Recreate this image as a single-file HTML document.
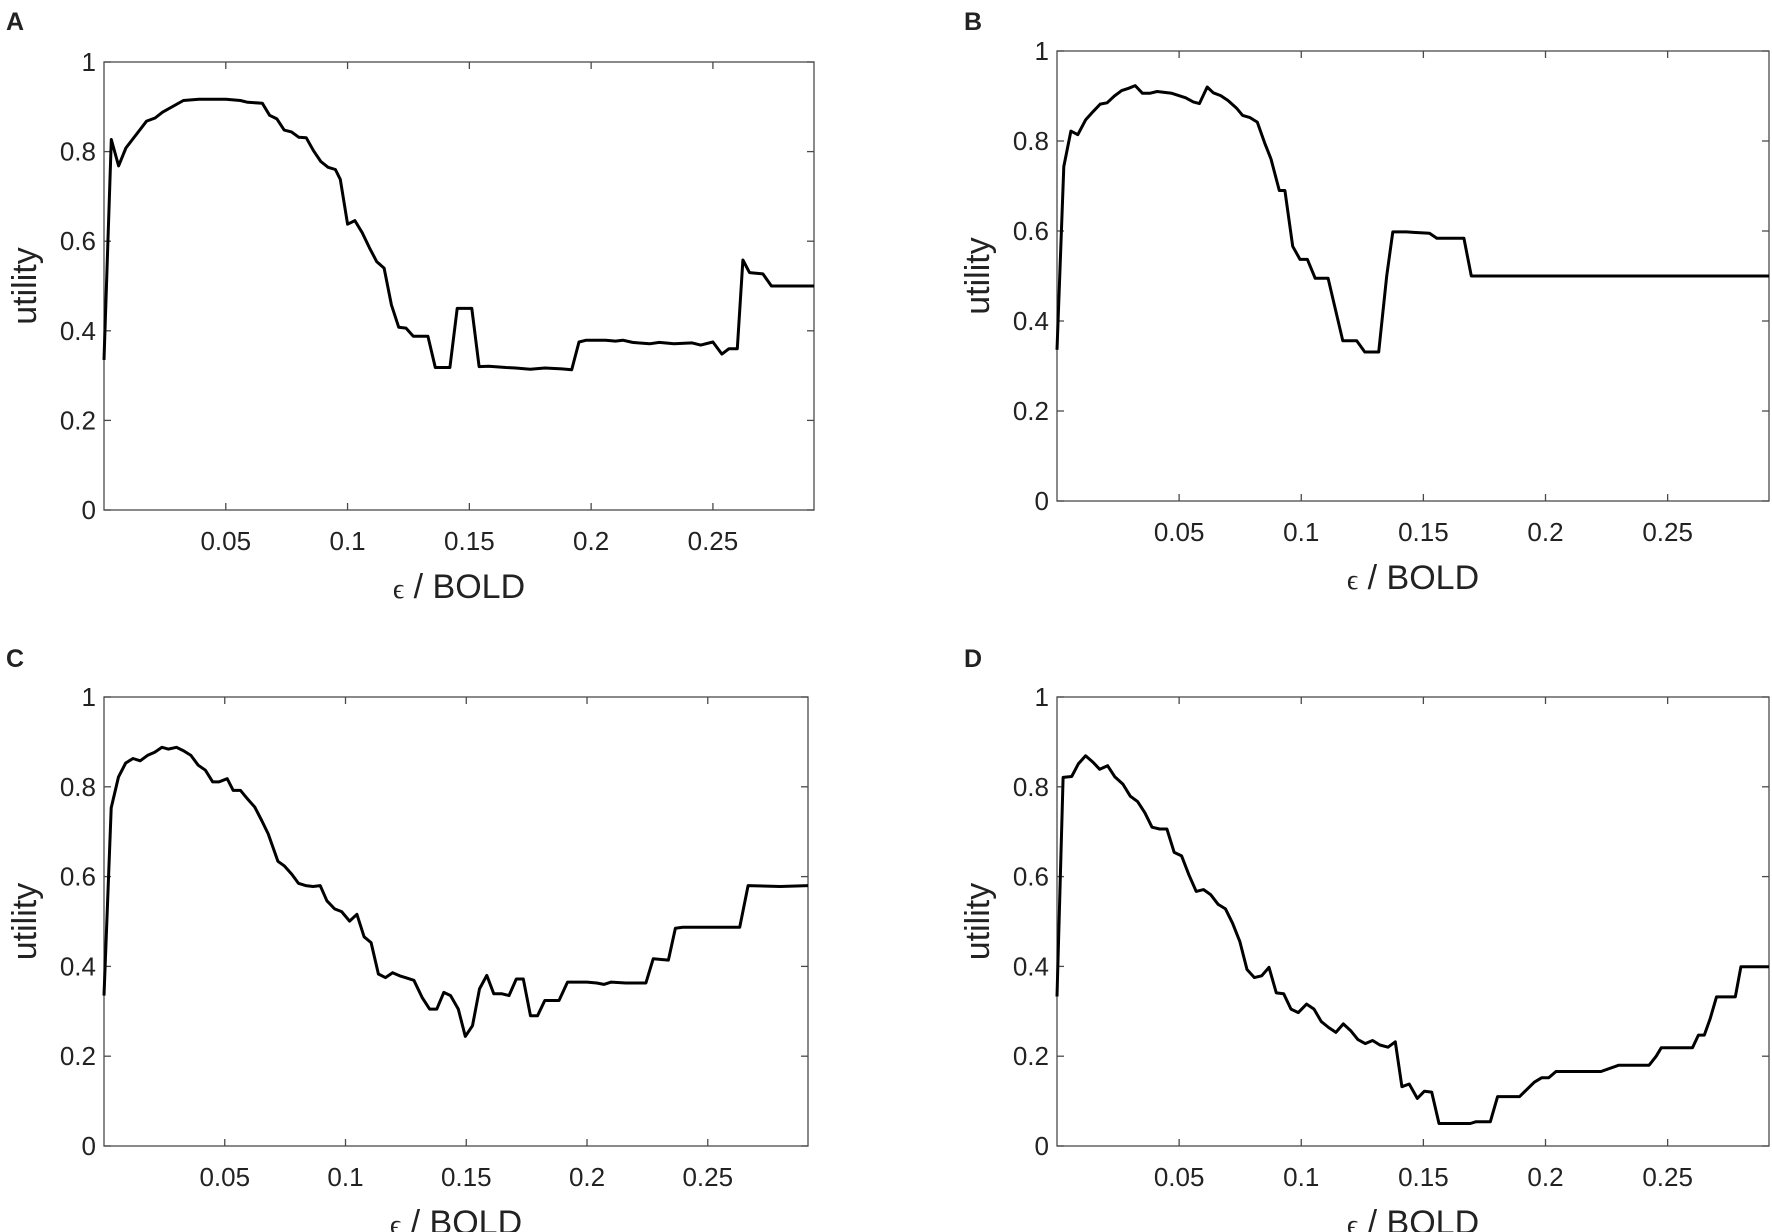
<!DOCTYPE html>
<html><head><meta charset="utf-8"><style>
html,body{margin:0;padding:0;background:#fff}
svg{display:block}
text{font-family:"Liberation Sans",Arial,sans-serif;fill:#222}
</style></head><body>
<svg id="fig" width="1772" height="1232" viewBox="0 0 1772 1232" xmlns="http://www.w3.org/2000/svg"></svg>
<script>
// ---- data ----
const xTicks = [0.05, 0.1, 0.15, 0.2, 0.25];
const xTickLabels = ["0.05", "0.1", "0.15", "0.2", "0.25"];
const yTicks = [0, 0.2, 0.4, 0.6, 0.8, 1];
const yTickLabels = ["0", "0.2", "0.4", "0.6", "0.8", "1"];
const panelLetters = ["A", "B", "C", "D"];

const epsA = [0,0.003,0.006,0.009,0.0175,0.021,0.024,0.0326,0.039,0.05,0.056,0.059,0.065,0.068,0.071,0.074,0.077,0.08,0.083,0.086,0.089,0.092,0.095,0.097,0.1,0.103,0.106,0.109,0.112,0.115,0.118,0.121,0.124,0.127,0.133,0.136,0.142,0.145,0.151,0.154,0.158,0.165,0.169,0.175,0.181,0.188,0.192,0.195,0.198,0.206,0.21,0.213,0.217,0.224,0.228,0.234,0.2415,0.245,0.25,0.2537,0.2566,0.26,0.2623,0.265,0.2705,0.274,0.2915];
const utilA = [0.335,0.827,0.768,0.808,0.868,0.875,0.888,0.914,0.917,0.917,0.914,0.91,0.908,0.881,0.873,0.848,0.844,0.832,0.831,0.802,0.778,0.765,0.76,0.738,0.638,0.646,0.619,0.585,0.554,0.54,0.458,0.408,0.406,0.388,0.388,0.318,0.318,0.45,0.45,0.32,0.321,0.318,0.317,0.314,0.317,0.315,0.313,0.375,0.379,0.379,0.377,0.379,0.374,0.371,0.374,0.371,0.373,0.368,0.375,0.348,0.36,0.36,0.558,0.53,0.527,0.5,0.5];

const epsB = [0,0.0028,0.0057,0.0085,0.0117,0.0147,0.0177,0.0205,0.0235,0.0265,0.0293,0.032,0.035,0.038,0.041,0.047,0.0527,0.0558,0.0583,0.0615,0.064,0.067,0.07,0.0735,0.076,0.079,0.082,0.085,0.0876,0.091,0.0933,0.0965,0.0995,0.1025,0.1057,0.111,0.117,0.1227,0.126,0.1317,0.135,0.1375,0.143,0.146,0.1525,0.1555,0.1666,0.1696,0.2915];
const utilB = [0.336,0.743,0.822,0.814,0.847,0.865,0.882,0.885,0.9,0.912,0.917,0.923,0.906,0.906,0.91,0.906,0.896,0.887,0.883,0.92,0.907,0.901,0.89,0.873,0.857,0.852,0.842,0.796,0.76,0.69,0.69,0.566,0.537,0.537,0.495,0.495,0.356,0.356,0.331,0.331,0.5,0.598,0.598,0.597,0.595,0.584,0.584,0.5,0.5];

const epsC = [0,0.003,0.006,0.009,0.012,0.015,0.018,0.021,0.024,0.0266,0.03,0.033,0.036,0.039,0.042,0.045,0.0476,0.051,0.0535,0.0565,0.0594,0.0624,0.0653,0.068,0.072,0.0746,0.0778,0.0805,0.0835,0.0866,0.0895,0.0923,0.0955,0.0984,0.1017,0.1047,0.1077,0.1106,0.1136,0.1165,0.1195,0.1224,0.1254,0.1283,0.1317,0.1348,0.1378,0.1407,0.1435,0.1467,0.1496,0.1526,0.1555,0.1585,0.1614,0.1648,0.1677,0.1707,0.1736,0.1766,0.1795,0.1825,0.1884,0.1919,0.2,0.204,0.207,0.21,0.216,0.2244,0.2274,0.2337,0.2366,0.2396,0.2514,0.2632,0.2667,0.28,0.2915];
const utilC = [0.335,0.753,0.822,0.853,0.863,0.858,0.87,0.877,0.888,0.884,0.888,0.88,0.87,0.848,0.837,0.811,0.811,0.818,0.792,0.792,0.773,0.755,0.725,0.695,0.634,0.624,0.605,0.585,0.58,0.578,0.58,0.546,0.528,0.522,0.501,0.516,0.466,0.453,0.383,0.375,0.386,0.379,0.374,0.369,0.331,0.305,0.305,0.342,0.335,0.305,0.244,0.268,0.35,0.38,0.339,0.339,0.335,0.372,0.372,0.29,0.29,0.324,0.324,0.365,0.365,0.363,0.36,0.365,0.363,0.363,0.417,0.414,0.485,0.487,0.487,0.487,0.58,0.578,0.58];

const epsD = [0,0.0025,0.006,0.0087,0.0117,0.0147,0.0175,0.0207,0.0237,0.027,0.03,0.033,0.036,0.0389,0.042,0.045,0.048,0.051,0.054,0.057,0.06,0.0629,0.066,0.069,0.0719,0.0749,0.0778,0.0808,0.0838,0.0868,0.0898,0.0928,0.0958,0.0988,0.1022,0.1052,0.1082,0.1112,0.1142,0.1172,0.1202,0.1232,0.1262,0.1292,0.1322,0.1355,0.1385,0.1412,0.1442,0.1475,0.1504,0.1534,0.1564,0.1692,0.1714,0.1774,0.1804,0.1894,0.1924,0.1954,0.1984,0.2013,0.2043,0.2227,0.23,0.2424,0.2453,0.2474,0.2602,0.2626,0.265,0.2674,0.27,0.2777,0.28,0.2915];
const utilD = [0.333,0.821,0.823,0.851,0.869,0.855,0.839,0.847,0.822,0.806,0.779,0.767,0.742,0.71,0.706,0.706,0.654,0.646,0.604,0.567,0.571,0.56,0.538,0.528,0.496,0.455,0.393,0.375,0.379,0.398,0.341,0.339,0.305,0.297,0.316,0.305,0.277,0.264,0.253,0.272,0.257,0.237,0.228,0.235,0.225,0.22,0.232,0.132,0.138,0.106,0.122,0.12,0.05,0.05,0.054,0.054,0.11,0.11,0.126,0.142,0.152,0.152,0.166,0.166,0.18,0.18,0.2,0.219,0.219,0.247,0.247,0.283,0.332,0.332,0.399,0.399];

const seriesX = [epsA, epsB, epsC, epsD];
const seriesY = [utilA, utilB, utilC, utilD];
const xMax = 0.2915;

// ---- layout ----
const boxes = [
  {l:104, r:814, t:62, b:510, lx:6, ly:30},
  {l:1057, r:1769, t:51, b:501, lx:964, ly:30},
  {l:104, r:808, t:697, b:1146, lx:6, ly:667},
  {l:1057, r:1769, t:697, b:1146, lx:964, ly:667}
];
const NS = "http://www.w3.org/2000/svg";
const svg = document.getElementById('fig');
function mk(tag, attrs, parent){
  const e = document.createElementNS(NS, tag);
  for (const k in attrs) e.setAttribute(k, attrs[k]);
  parent.appendChild(e);
  return e;
}
boxes.forEach((bx, i) => {
  const sx = v => bx.l + (v / xMax) * (bx.r - bx.l);
  const sy = v => bx.b - v * (bx.b - bx.t);
  const g = mk('g', {}, svg);
  
  

  const lt = mk('text', {x: bx.lx, y: bx.ly, 'font-size': 25, 'font-weight': 'bold', fill: '#000'}, g);
  lt.textContent = panelLetters[i];
  
  

  const frame = mk('rect', {x: bx.l, y: bx.t, width: bx.r - bx.l, height: bx.b - bx.t, fill: 'none', stroke: '#4a4a4a', 'stroke-width': 1.3}, g);
  
  

  xTicks.forEach((v, j) => {
    const x = sx(v);
    mk('line', {x1: x, x2: x, y1: bx.b, y2: bx.b - 7, stroke: '#4a4a4a', 'stroke-width': 1.3}, g);
    mk('line', {x1: x, x2: x, y1: bx.t, y2: bx.t + 7, stroke: '#4a4a4a', 'stroke-width': 1.3}, g);
    const t = mk('text', {x: x, y: bx.b + 40, 'font-size': 26, 'text-anchor': 'middle'}, g);
    t.textContent = xTickLabels[j];
    
    
  });
  yTicks.forEach((v, j) => {
    const y = sy(v);
    mk('line', {x1: bx.l, x2: bx.l + 7, y1: y, y2: y, stroke: '#4a4a4a', 'stroke-width': 1.3}, g);
    mk('line', {x1: bx.r, x2: bx.r - 7, y1: y, y2: y, stroke: '#4a4a4a', 'stroke-width': 1.3}, g);
    const t = mk('text', {x: bx.l - 8, y: y + 9, 'font-size': 26, 'text-anchor': 'end'}, g);
    t.textContent = yTickLabels[j];
    
    
  });

  const cx = (bx.l + bx.r) / 2;
  const xl = mk('text', {x: cx, y: bx.b + 88, 'font-size': 34, 'text-anchor': 'middle'}, g);
  xl.innerHTML = '<tspan font-family="Liberation Serif, serif" font-size="28">ϵ</tspan> / BOLD';
  
  

  const cy = (bx.t + bx.b) / 2;
  const yx = bx.l - 68;
  const yl = mk('text', {x: yx, y: cy, 'font-size': 34, 'text-anchor': 'middle', transform: 'rotate(-90 ' + yx + ' ' + cy + ')'}, g);
  yl.textContent = 'utility';
  
  

  const xs = seriesX[i], ys = seriesY[i];
  const d = xs.map((v, k) => (k ? 'L' : 'M') + sx(v).toFixed(1) + ' ' + sy(ys[k]).toFixed(1)).join(' ');
  const p = mk('path', {d: d, fill: 'none', stroke: '#000', 'stroke-width': 3, 'stroke-linejoin': 'round'}, g);
  
  
});
</script>
</body></html>
